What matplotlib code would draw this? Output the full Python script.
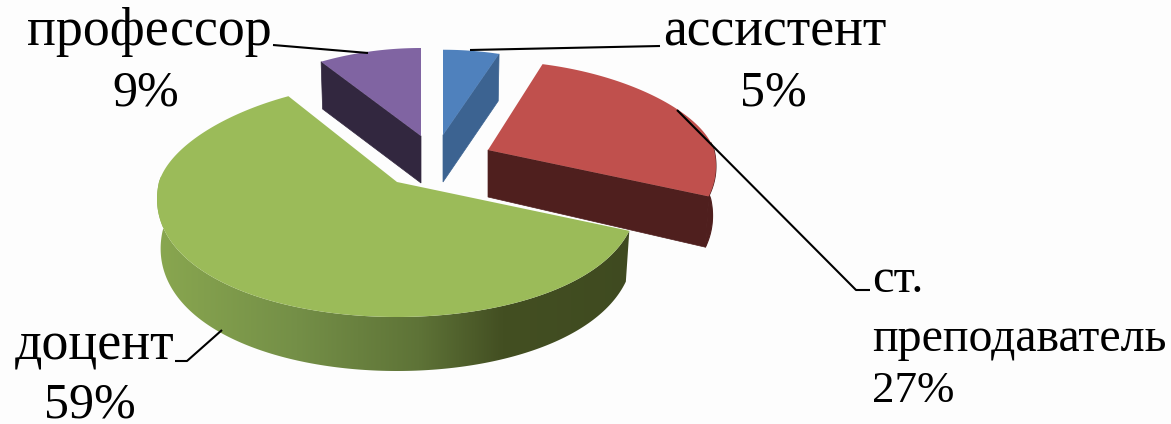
import numpy as np
import matplotlib
matplotlib.use("Agg")
import matplotlib.pyplot as plt
from matplotlib.patches import Polygon
from matplotlib.colors import LinearSegmentedColormap

categories = ["ассистент", "ст. преподаватель", "доцент", "профессор"]
shares = [5, 27, 59, 9]

top_colors = ["#4f81bd", "#c0504d", "#9bbb59", "#8064a2"]
wall_colors = ["#3c6391", "#4f1f1e", "#9bbb59", "#32273f"]
apexes = [(443, 135), (488, 150), (397, 182), (421, 136)]
scales = [0.87, 0.95, 1.0, 0.88]
back_heights = [98, 94, 100, 100]
turns_start = [0, -2, -4, 0]
turns_end = [0, -4, 1.5, 0]
RX, RY_FRONT, PERSPECTIVE = 238, 135, 0.13

plt.rcParams["font.family"] = ["Liberation Serif", "DejaVu Serif"]
fig = plt.figure(figsize=(11.71, 4.24), dpi=100, facecolor="#fdfdfd")
ax = fig.add_axes([0, 0, 1, 1])
ax.set_xlim(0, 1171)
ax.set_ylim(424, 0)
ax.axis("off")


def rim(t, apex, sc, ry_back):
    u, v = np.sin(t), -np.cos(t)
    xk = 1 + PERSPECTIVE * v
    yk = np.where(v > 0, RY_FRONT, ry_back)
    return apex[0] + RX * u * xk * sc, apex[1] + yk * v * sc


def drop(x, y, t, apex):
    v = -np.cos(t)
    return apex[0] + (x - apex[0]) * 0.985, y + 47 + 4 * (v + 1) / 2 + 3 * max(v, 0)


edges = np.cumsum([0] + shares) / sum(shares) * 2 * np.pi
order = [3, 0, 1, 2]
for i in order:
    a0 = edges[i] + np.deg2rad(turns_start[i])
    a1 = edges[i + 1] + np.deg2rad(turns_end[i])
    ap = apexes[i]
    sc = scales[i]
    ts = np.linspace(a0, a1, 240)
    xs, ys = rim(ts, ap, sc, back_heights[i])
    top = np.vstack([[ap], np.column_stack([xs, ys])])

    if categories[i] == "доцент":
        wt = ts[ts <= np.deg2rad(274)]
        wx, wy = rim(wt, ap, sc, back_heights[i])
        bx, by = zip(*[drop(x, y, t, ap) for x, y, t in zip(wx, wy, wt)])
        poly = np.vstack([np.column_stack([wx, wy]), np.column_stack([bx, by])[::-1]])
        cmap = LinearSegmentedColormap.from_list(
            "wall",
            [(0, "#8aa850"), (0.3, "#748f47"), (0.55, "#5e7337"),
             (0.72, "#434f22"), (1, "#3f4a20")],
        )
        grad = np.linspace(0, 1, 256).reshape(1, -1)
        im = ax.imshow(grad, extent=(150, 640, 380, 170), cmap=cmap,
                       aspect="auto", zorder=i + 2, interpolation="bilinear")
        patch = Polygon(poly, closed=True, transform=ax.transData, fc="none", ec="none")
        ax.add_patch(patch)
        im.set_clip_path(patch)
        ax.set_xlim(0, 1171)
        ax.set_ylim(424, 0)
    else:
        bxy = [drop(x, y, t, ap) for x, y, t in zip(xs, ys, ts)]
        apex_low = (ap[0], ap[1] + 47)
        if categories[i] == "ассистент":
            wall = [ap, (xs[-1], ys[-1]), bxy[-1], apex_low]
        elif categories[i] == "профессор":
            wall = [ap, (xs[0], ys[0]), bxy[0], apex_low]
        else:
            wall = [ap, (xs[-1], ys[-1]), bxy[-1], apex_low]
            far = ts >= np.deg2rad(85)
            outer = np.vstack([np.column_stack([xs[far], ys[far]]),
                               np.array(bxy)[far][::-1]])
            ax.add_patch(Polygon(outer, closed=True, fc=wall_colors[i],
                                 ec=wall_colors[i], lw=0.8, zorder=i + 2))
        ax.add_patch(Polygon(wall, closed=True, fc=wall_colors[i],
                             ec=wall_colors[i], lw=0.5, zorder=i + 2))
    ax.add_patch(Polygon(top, closed=True, fc=top_colors[i], ec="none", zorder=i + 2.5))

leaders = [
    ([660, 470], [46, 50]),
    ([870, 856, 677], [290, 290, 110]),
    ([175, 187, 222], [361, 361, 330]),
    ([273, 368], [45, 53]),
]
for lx, ly in leaders:
    ax.plot(lx, ly, color="black", lw=1.5, zorder=10, solid_capstyle="butt")

pct = [f"{s}%" for s in shares]
tx = dict(color="black", zorder=11, va="baseline")
ax.text(27, 45, "профессор", ha="left", fontsize=38.8, **tx)
ax.text(146, 106, pct[3], ha="center", fontsize=36, **tx)
ax.text(663, 45, "ассистент", ha="left", fontsize=38.6, **tx)
ax.text(773, 106, pct[0], ha="center", fontsize=36, **tx)
ax.text(872, 292, "ст.", ha="left", fontsize=35, **tx)
ax.text(872, 351, "преподаватель", ha="left", fontsize=34.5, **tx)
ax.text(872, 402, pct[1], ha="left", fontsize=32.4, **tx)
ax.text(15, 360, "доцент", ha="left", fontsize=38.8, **tx)
ax.text(90, 418, pct[2], ha="center", fontsize=36, **tx)

fig.savefig("out.png", dpi=100, facecolor=fig.get_facecolor())
